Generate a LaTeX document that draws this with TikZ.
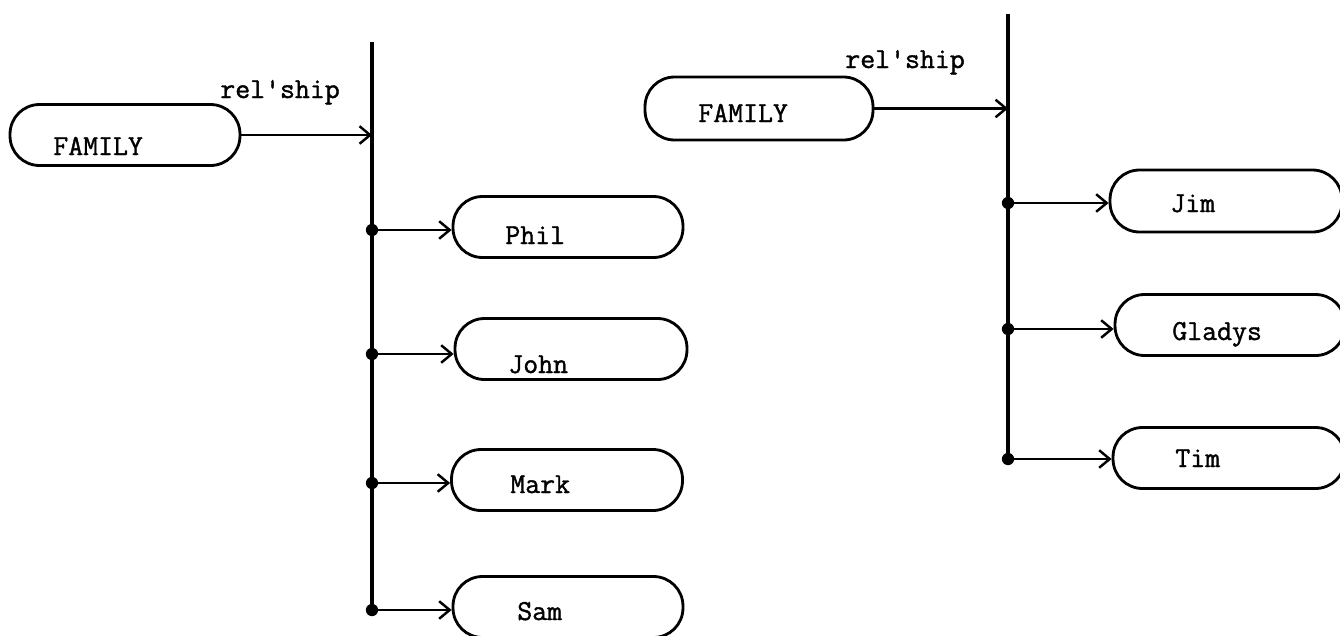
\documentclass[tikz,border=0pt]{standalone}
\usepackage{fontspec}
\newfontfamily\twfont[FakeBold=1.3]{Latin Modern Mono}
\usetikzlibrary{arrows.meta}
\tikzset{
  box/.style={draw, line width=1.6pt, rounded corners=0.59cm, minimum height=1.22cm, inner sep=0pt},
  lbl/.style={anchor=base west, inner sep=0pt, font=\fontsize{16.5}{18}\selectfont\twfont},
  spine/.style={line width=2pt},
  conn/.style={line width=1.3pt, -{Straight Barb[length=6pt,width=10pt,line width=1.4pt]}},
  dot/.style={circle, fill, inner sep=0pt, minimum size=7pt}
}
\begin{document}
\begin{tikzpicture}[x=0.02cm,y=-0.02cm]
\useasboundingbox (0,0) rectangle (1340,636);

% ---------- left structure ----------
\node[box, minimum width=4.6cm] (fam1) at (125,135) {};
\node[lbl] (fam1t) at (53,155) {FAMILY};
\node[lbl] (rel1) at (220,98) {rel\textquotesingle ship};

\coordinate (top1) at (372,42);
\coordinate (bot1) at (372,610);
\draw[spine] (top1) -- (bot1);
\draw[conn] (fam1.east) -- (fam1.east -| top1);

\node[box, minimum width=4.6cm] (phil) at (568,227) {};
\node[lbl] (philt) at (505,244) {Phil};
\node[box, minimum width=4.64cm] (john) at (571,349) {};
\node[lbl] (johnt) at (508,373) {John};
\node[box, minimum width=4.62cm] (mark) at (567,480) {};
\node[lbl] (markt) at (510,493) {Mark};
\node[box, minimum width=4.6cm] (sam) at (568,607) {};
\node[lbl] (samt) at (517,620) {Sam};

\node[dot] (d1) at (372,230) {};
\node[dot] (d2) at (372,354) {};
\node[dot] (d3) at (372,483) {};
\node[dot] (d4) at (372,610) {};
\draw[conn] (d1.center) -- (d1 -| phil.west);
\draw[conn] (d2.center) -- (d2 -| john.west);
\draw[conn] (d3.center) -- (d3 -| mark.west);
\draw[conn] (d4.center) -- (d4 -| sam.west);

% ---------- right structure ----------
\node[box, minimum width=4.56cm, minimum height=1.26cm] (fam2) at (759,108.5) {};
\node[lbl] (fam2t) at (698,122) {FAMILY};
\node[lbl] (rel2) at (845,68) {rel\textquotesingle ship};

\coordinate (top2) at (1008,14);
\coordinate (bot2) at (1008,459);
\draw[spine] (top2) -- (bot2);
\draw[conn] (fam2.east) -- (fam2.east -| top2);

\node[box, minimum width=4.64cm, minimum height=1.24cm] (jim) at (1226,201) {};
\node[lbl] (jimt) at (1170,212) {Jim};
\node[box, minimum width=4.6cm] (gladys) at (1230,325) {};
\node[lbl] (gladyst) at (1172,340) {Gladys};
\node[box, minimum width=4.64cm] (tim) at (1229,458) {};
\node[lbl] (timt) at (1175,467) {Tim};

\node[dot] (e1) at (1008,203) {};
\node[dot] (e2) at (1008,329) {};
\node[dot] (e3) at (1008,459) {};
\draw[conn] (e1.center) -- (e1 -| jim.west);
\draw[conn] (e2.center) -- (e2 -| gladys.west);
\draw[conn] (e3.center) -- (e3 -| tim.west);
\end{tikzpicture}
\end{document}
